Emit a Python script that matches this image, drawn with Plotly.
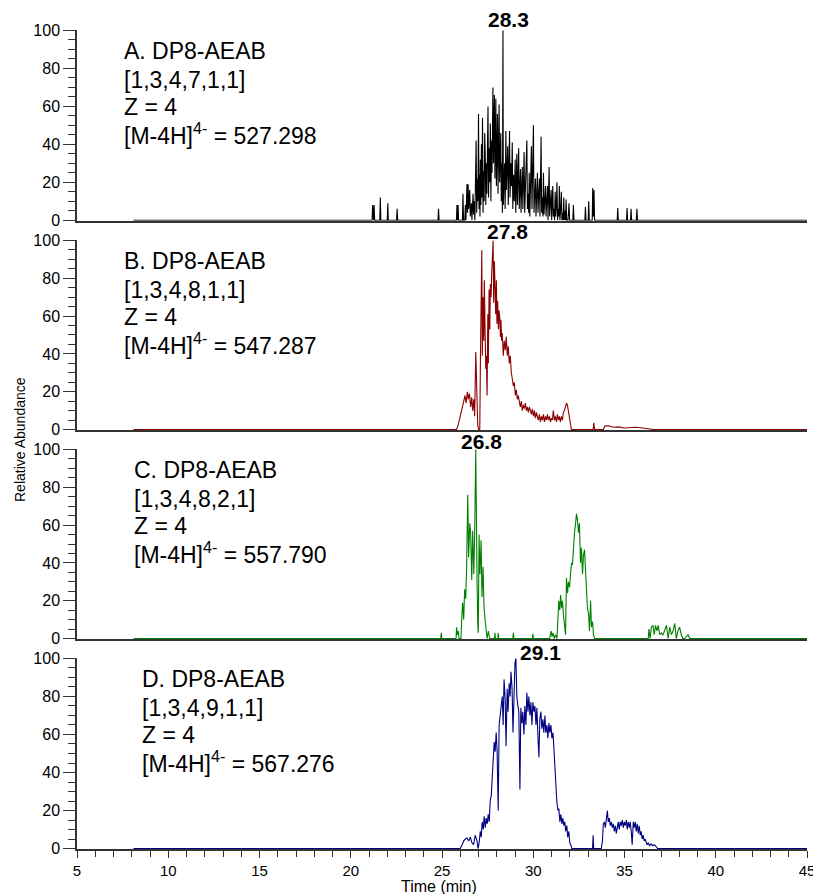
import plotly.graph_objects as go

# ---------------- data (time in min, relative abundance in %) ----------------
A_time = [
    8.10, 21.17, 21.20, 21.23, 21.25, 21.28, 21.31,
    21.59, 21.62, 21.65, 22.00, 22.03, 22.06,
    22.51, 22.54, 22.57, 24.78, 24.81, 24.84,
    25.79, 25.82, 25.85, 25.88, 25.91, 26.12, 26.15, 26.18,
    26.25, 26.28, 26.31, 26.34, 26.37, 26.40, 26.43, 26.46,
    26.52, 26.55, 26.61, 26.64, 26.70, 26.73, 26.77, 26.80,
    26.84, 26.87, 26.90, 26.94, 26.97, 27.00, 27.03, 27.06,
    27.08, 27.10, 27.13, 27.16, 27.19, 27.22, 27.25, 27.28,
    27.31, 27.34, 27.37, 27.40, 27.43, 27.46, 27.49, 27.52,
    27.55, 27.58, 27.61, 27.65, 27.68, 27.71, 27.74, 27.77,
    27.79, 27.82, 27.85, 27.87, 27.90, 27.93, 27.95, 27.98,
    28.01, 28.04, 28.07, 28.10, 28.13, 28.16, 28.19, 28.22,
    28.25, 28.28, 28.31, 28.34, 28.36, 28.40, 28.43, 28.46,
    28.50, 28.53, 28.57, 28.60, 28.63, 28.67, 28.70, 28.73,
    28.77, 28.81, 28.85, 28.88, 28.92, 28.96, 29.01, 29.04,
    29.07, 29.10, 29.13, 29.17, 29.20, 29.23, 29.27, 29.30,
    29.33, 29.37, 29.40, 29.43, 29.47, 29.50, 29.53, 29.57,
    29.61, 29.65, 29.68, 29.72, 29.75, 29.78, 29.81, 29.85,
    29.90, 29.93, 29.97, 30.01, 30.04, 30.08, 30.12, 30.15,
    30.19, 30.23, 30.26, 30.30, 30.34, 30.37, 30.40, 30.43,
    30.46, 30.50, 30.53, 30.56, 30.59, 30.63, 30.67, 30.70,
    30.74, 30.78, 30.81, 30.84, 30.87, 30.90, 30.94, 30.98,
    31.01, 31.04, 31.07, 31.10, 31.14, 31.17, 31.20, 31.23,
    31.27, 31.30, 31.33, 31.37, 31.40, 31.43, 31.46, 31.50,
    31.54, 31.57, 31.61, 31.64, 31.67, 31.70, 31.74, 31.77,
    31.80, 31.83, 31.90, 31.93, 31.96, 31.99, 32.17, 32.20, 32.23,
    32.83, 32.86, 32.89, 33.01, 33.04, 33.07, 33.23, 33.26, 33.29, 33.33, 33.36,
    34.60, 34.63, 34.66, 35.11, 35.14, 35.17, 35.33, 35.36, 35.39, 35.65, 35.68, 35.71, 45.00,
]
A_abund = [
    0, 0, 8, 0, 0, 8, 0,
    0, 12, 0, 0, 9, 0,
    0, 6, 0, 0, 6, 0,
    0, 8, 0, 8, 0, 0, 14, 0,
    0, 8, 0, 10, 19, 4, 19, 6,
    16, 2, 9, 0, 14, 3, 10, 0,
    28, 42, 4, 22, 10, 56, 6, 24,
    2, 32, 8, 40, 12, 54, 4, 26,
    10, 46, 35, 8, 30, 14, 44, 60,
    12, 38, 20, 51, 10, 42, 25, 58,
    70, 30, 52, 66, 22, 48, 64, 18,
    40, 56, 14, 45, 61, 20, 36, 46,
    10, 30, 4, 100, 8, 22, 30, 6,
    47, 16, 33, 39, 8, 28, 47, 12,
    30, 18, 41, 6, 24, 10, 32, 4,
    20, 35, 8, 26, 38, 6, 20, 27,
    4, 18, 28, 6, 22, 36, 4, 16,
    30, 42, 6, 14, 4, 25, 2, 18,
    39, 6, 22, 50, 4, 12, 22, 2,
    14, 25, 4, 10, 22, 2, 18, 44,
    4, 12, 2, 25, 3, 10, 18, 2,
    8, 18, 0, 12, 28, 2, 8, 16,
    0, 10, 18, 2, 6, 0, 15, 2,
    8, 20, 0, 6, 2, 18, 0, 6,
    15, 0, 4, 0, 12, 0, 5, 0,
    11, 0, 0, 4, 9, 0, 0, 8, 0,
    0, 7, 0, 0, 10, 0, 0, 17, 2, 16, 0,
    0, 6.5, 0, 0, 6.5, 0, 0, 6, 0, 0, 6, 0, 0,
]

B_time = [
    8.10, 25.80, 25.89, 26.08, 26.17, 26.26, 26.32, 26.39,
    26.44, 26.50, 26.57, 26.63, 26.68, 26.74, 26.79, 26.85,
    26.90, 26.96, 27.01, 27.07, 27.10, 27.14, 27.18, 27.21,
    27.25, 27.29, 27.32, 27.36, 27.40, 27.43, 27.47, 27.51,
    27.54, 27.58, 27.62, 27.65, 27.69, 27.72, 27.76, 27.80,
    27.83, 27.87, 27.91, 27.94, 27.98, 28.01, 28.05, 28.09,
    28.12, 28.16, 28.20, 28.23, 28.27, 28.30, 28.36, 28.41,
    28.47, 28.52, 28.58, 28.63, 28.69, 28.74, 28.80, 28.85,
    28.91, 28.96, 29.02, 29.07, 29.13, 29.18, 29.24, 29.29,
    29.35, 29.40, 29.46, 29.51, 29.57, 29.62, 29.68, 29.73,
    29.79, 29.84, 29.90, 29.95, 30.01, 30.06, 30.12, 30.17,
    30.23, 30.28, 30.34, 30.39, 30.45, 30.50, 30.56, 30.61,
    30.67, 30.72, 30.78, 30.83, 30.89, 30.94, 31.00, 31.05,
    31.10, 31.16, 31.21, 31.27, 31.32, 31.38, 31.43, 31.49,
    31.54, 31.60, 31.65, 31.71, 31.76, 31.82, 31.87, 31.93,
    31.98, 32.04, 32.09, 33.28, 33.32, 33.36, 33.84, 33.92,
    34.13, 34.40, 34.68, 35.00, 35.30, 35.60, 36.00, 36.33, 36.60, 45.00,
]
B_abund = [
    0, 0, 2.6, 9.6, 14, 18, 14, 20,
    16, 19, 12, 17, 10, 16, 7, 41,
    21, 2, 0, 0, 32, 53, 95, 39,
    70, 47, 79, 53, 32, 39, 18, 61,
    35, 74, 53, 77, 70, 82, 95, 100,
    67, 89, 74, 61, 79, 56, 68, 53,
    63, 60, 49, 58, 47, 51, 39, 47,
    42, 49, 39, 44, 35, 39, 30, 26,
    23, 25, 18, 21, 16, 18, 14, 12,
    15, 10, 13, 11, 14, 10, 12, 9,
    12, 10, 8, 11, 7, 10, 6, 9,
    7, 5, 8, 4, 7, 5, 8, 4,
    7, 5, 8, 5, 7, 4, 6, 5,
    10, 5, 7, 4, 8, 5, 7, 4,
    7, 5, 9, 10, 12, 14, 13, 10,
    7, 4, 0, 0, 3.5, 0, 0, 1.8,
    2, 1.2, 1.4, 0.8, 1.2, 1.2, 0.8, 0.5, 0, 0,
]

C_time = [
    8.10, 24.93, 24.96, 24.99, 25.77, 25.80, 25.84, 25.89, 25.93,
    26.04, 26.08, 26.13, 26.19, 26.24, 26.30, 26.35, 26.41,
    26.46, 26.52, 26.57, 26.63, 26.68, 26.74, 26.79, 26.85,
    26.88, 26.92, 26.96, 26.99, 27.03, 27.08, 27.14, 27.19,
    27.25, 27.30, 27.36, 27.41, 27.47, 27.54, 27.61,
    27.88, 27.90, 27.93, 28.06, 28.08, 28.11, 28.88, 28.91, 28.94, 29.95, 29.98, 30.01,
    30.90, 30.93, 30.98, 31.03, 31.08, 31.15, 31.22, 31.30,
    31.35, 31.40, 31.45, 31.50, 31.55, 31.60, 31.65, 31.70,
    31.77, 31.82, 31.88, 31.93, 31.99, 32.04, 32.10, 32.15,
    32.20, 32.26, 32.31, 32.37, 32.42, 32.48, 32.53, 32.59,
    32.64, 32.70, 32.75, 32.81, 32.86, 32.92, 32.97, 33.03,
    33.08, 33.14, 33.19, 33.25, 33.30, 33.36,
    36.30, 36.34, 36.40, 36.47, 36.56, 36.63, 36.70, 36.78, 36.85,
    36.93, 37.02, 37.11, 37.20, 37.30, 37.39, 37.48, 37.57, 37.66,
    37.75, 37.84, 37.93, 38.02, 38.11, 38.20, 38.30, 38.48, 38.57, 45.00,
]
C_abund = [
    0, 0, 3, 0, 0, 6, 2, 4, 0,
    0, 10, 19, 10, 26, 21, 38, 76,
    43, 61, 56, 31, 57, 34, 55, 100,
    52, 31, 8, 3, 55, 34, 52, 22,
    38, 17, 10, 6, 0, 4, 0,
    0, 3, 0, 0, 3, 0, 0, 3, 0, 0, 2.5, 0,
    0, 3, 4, 1, 3, 0, 2, 0,
    11, 20, 15, 23, 16, 20, 13, 6,
    2, 32, 24, 30, 27, 34, 40, 39,
    49, 56, 60, 66, 63, 56, 61, 40,
    48, 34, 44, 47, 37, 25, 16, 13,
    4, 20, 6, 9, 2, 0,
    0, 5, 0, 6, 7, 2, 7, 4, 7,
    2, 3, 1.8, 4, 7, 0, 6, 2, 4,
    8, 0, 4, 6, 2, 0, 0, 2, 0, 0,
]

D_time = [
    8.10, 26.00, 26.10, 26.19, 26.28, 26.37, 26.46, 26.55,
    26.64, 26.73, 26.82, 26.92, 26.97, 27.02, 27.10, 27.15,
    27.20, 27.26, 27.31, 27.37, 27.42, 27.48, 27.53, 27.59,
    27.64, 27.70, 27.75, 27.80, 27.86, 27.91, 27.97, 28.02,
    28.08, 28.13, 28.19, 28.24, 28.30, 28.35, 28.40, 28.46,
    28.51, 28.57, 28.62, 28.68, 28.73, 28.78, 28.84, 28.89,
    28.95, 29.00, 29.05, 29.10, 29.16, 29.21, 29.27, 29.32,
    29.38, 29.43, 29.49, 29.54, 29.60, 29.65, 29.71, 29.76,
    29.82, 29.87, 29.93, 29.98, 30.04, 30.09, 30.15, 30.20,
    30.26, 30.31, 30.36, 30.42, 30.47, 30.53, 30.58, 30.64,
    30.69, 30.75, 30.80, 30.86, 30.91, 30.97, 31.02, 31.08,
    31.13, 31.19, 31.24, 31.29, 31.35, 31.40, 31.46, 31.51,
    31.57, 31.62, 31.68, 31.73, 31.78, 31.84, 31.89, 31.95,
    32.00, 32.06, 32.11, 33.25, 33.28, 33.31, 33.73, 33.79,
    33.84, 33.90, 33.95, 34.00, 34.06, 34.11, 34.17, 34.22,
    34.28, 34.33, 34.39, 34.44, 34.50, 34.55, 34.60, 34.66,
    34.71, 34.77, 34.82, 34.88, 34.93, 34.99, 35.04, 35.10,
    35.15, 35.20, 35.26, 35.31, 35.37, 35.42, 35.48, 35.53,
    35.59, 35.64, 35.70, 35.75, 35.81, 35.86, 35.91, 35.97,
    36.02, 36.08, 36.13, 36.19, 36.24, 36.30, 36.37, 36.46,
    36.55, 36.64, 36.73, 36.82, 45.00,
]
D_abund = [
    0, 0, 2, 4, 5, 5.5, 4, 6,
    3, 2, 7, 4, 0, 2, 9, 6,
    14, 10, 17, 11, 16, 13, 18, 14,
    25, 28, 37, 49, 56, 51, 61, 51,
    20, 65, 72, 75, 80, 65, 89, 79,
    54, 84, 72, 87, 80, 93, 84, 61,
    89, 98, 100, 80, 75, 72, 31, 74,
    66, 72, 60, 75, 65, 82, 72, 80,
    70, 77, 65, 77, 72, 75, 65, 74,
    58, 48, 68, 72, 63, 68, 61, 70,
    61, 65, 58, 66, 61, 65, 58, 61,
    53, 41, 33, 25, 20, 21, 14, 18,
    13, 16, 12, 14, 9, 12, 6, 9,
    3, 2, 0, 0, 7, 0, 0, 4,
    13, 14, 11, 16, 20, 14, 16, 12,
    14, 11, 13, 9, 12, 8, 12, 14,
    10, 14, 12, 15, 11, 14, 12, 15,
    10, 14, 11, 14, 9, 2, 14, 11,
    14, 9, 13, 8, 12, 7, 9, 5,
    7, 4, 5, 3, 2, 3, 1.5, 2.5,
    1.5, 2, 1, 0, 0,
]

panel_lines = [
    ["A. DP8-AEAB", "[1,3,4,7,1,1]", "Z = 4", "[M-4H]<sup>4-</sup> = 527.298"],
    ["B. DP8-AEAB", "[1,3,4,8,1,1]", "Z = 4", "[M-4H]<sup>4-</sup> = 547.287"],
    ["C. DP8-AEAB", "[1,3,4,8,2,1]", "Z = 4", "[M-4H]<sup>4-</sup> = 557.790"],
    ["D. DP8-AEAB", "[1,3,4,9,1,1]", "Z = 4", "[M-4H]<sup>4-</sup> = 567.276"],
]
peak_labels = ["28.3", "27.8", "26.8", "29.1"]
colors = ["#000000", "#8B0000", "#008000", "#000080"]

# ---------------- layout helpers ----------------
series = [(A_time, A_abund), (B_time, B_abund), (C_time, C_abund), (D_time, D_abund)]
for t, v in series:
    assert len(t) == len(v), (len(t), len(v))

FONT = "Liberation Sans, Arial, Helvetica, sans-serif"
domains = [[0.7671, 1.0], [0.5116, 0.7436], [0.2564, 0.4884], [0.0, 0.2332]]
text_x = [7.47, 7.47, 8.0, 8.45]          # left edge of the panel captions (min)
label_x = [28.67, 28.6, 27.14, 30.42]     # centre of the peak labels (min)
label_y = [1.056, 1.047, 1.037, 1.031]    # in y-domain units
line_offsets = [0.89, 0.738, 0.596, 0.455]
AXC = "#333333"

fig = go.Figure()
layout = dict(
    width=813, height=894,
    margin=dict(l=77, r=6, t=30, b=45, autoexpand=False),
    paper_bgcolor="white", plot_bgcolor="white",
    showlegend=False,
    font=dict(family=FONT, size=16, color="black"),
)
annotations = []
for i, ((t, v), col) in enumerate(zip(series, colors)):
    n = "" if i == 0 else str(i + 1)
    fig.add_trace(go.Scatter(x=t, y=v, mode="lines",
                             line=dict(color=col, width=1.1),
                             xaxis="x" + n, yaxis="y" + n, hoverinfo="skip"))
    is_bottom = (i == 3)
    xa = dict(range=[5, 45], domain=[0, 1], anchor="y" + n, automargin=False,
              showline=True, linecolor=AXC, linewidth=1.5, layer="below traces",
              showgrid=False, zeroline=False, fixedrange=True)
    if is_bottom:
        xa.update(tickmode="linear", tick0=5, dtick=5, ticks="outside",
                  ticklen=7, tickwidth=1.2, tickcolor=AXC,
                  ticklabeloverflow="allow",
                  tickfont=dict(size=15, family=FONT, color="black"),
                  minor=dict(dtick=1, ticks="outside", ticklen=6,
                             tickwidth=1.2, tickcolor=AXC))
    else:
        xa.update(showticklabels=False, ticks="")
        xa["matches"] = "x"
    ya = dict(range=[-0.25, 100.25], domain=domains[i], anchor="x" + n,
              automargin=False,
              showline=True, linecolor=AXC, linewidth=1.5, layer="below traces",
              showgrid=False, zeroline=False, fixedrange=True,
              tickmode="linear", tick0=0, dtick=20, ticks="outside",
              ticklen=12, tickwidth=1.2, tickcolor=AXC,
              tickfont=dict(size=16, family=FONT, color="black"),
              minor=dict(dtick=5, tick0=0, ticks="outside", ticklen=7,
                         tickwidth=1.2, tickcolor=AXC))
    layout["xaxis" + n] = xa
    layout["yaxis" + n] = ya

    for k, (txt, off) in enumerate(zip(panel_lines[i], line_offsets)):
        annotations.append(dict(
            text=txt, x=text_x[i], xref="x" + n, y=off, yref="y" + n + " domain",
            xanchor="left", yanchor="middle", showarrow=False,
            font=dict(size=23, family=FONT, color="black")))
    annotations.append(dict(
        text="<b>" + peak_labels[i] + "</b>", x=label_x[i], xref="x" + n,
        y=label_y[i], yref="y" + n + " domain", xanchor="center", yanchor="middle",
        showarrow=False, font=dict(size=21, family=FONT, color="black")))

annotations.append(dict(text="Relative Abundance", textangle=-90,
                        x=(20 - 77) / 730, xref="paper", xanchor="center",
                        y=0.4994, yref="paper", yanchor="middle", showarrow=False,
                        font=dict(size=14, family=FONT, color="black")))
annotations.append(dict(text="Time (min)", x=0.496, xref="paper", xanchor="center",
                        y=-0.0455, yref="paper", yanchor="middle", showarrow=False,
                        font=dict(size=16, family=FONT, color="black")))
layout["annotations"] = annotations
fig.update_layout(**layout)

fig.write_html("out.html",
               config={"displayModeBar": False},
               post_script="document.body.style.margin='0px';"
                           "document.body.style.overflow='hidden';")
